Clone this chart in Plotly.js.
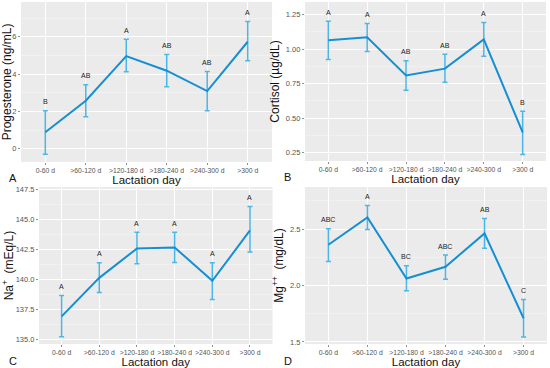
<!DOCTYPE html>
<html><head><meta charset="utf-8">
<script src="https://cdn.plot.ly/plotly-3.0.1.min.js"></script>
<style>html,body{margin:0;padding:0;background:#fff}#chart{width:550px;height:368px}</style>
</head><body><div id="chart"></div>
<script>
const categories = ["0-60 d", ">60-120 d", ">120-180 d", ">180-240 d", ">240-300 d", ">300 d"];

const progMean  = [0.88, 2.57, 4.96, 4.18, 3.09, 5.73];
const progUpper = [2.04, 3.43, 5.86, 5.05, 4.14, 6.82];
const progLower = [-0.30, 1.71, 4.13, 3.32, 2.04, 4.71];
const progLetters = ["B", "AB", "A", "AB", "AB", "A"];

const cortMean  = [1.064, 1.086, 0.810, 0.859, 1.071, 0.397];
const cortUpper = [1.202, 1.187, 0.917, 0.963, 1.194, 0.550];
const cortLower = [0.926, 0.984, 0.702, 0.760, 0.948, 0.238];
const cortLetters = ["A", "A", "AB", "AB", "A", "B"];

const naMean  = [136.94, 140.14, 142.58, 142.67, 139.89, 144.08];
const naUpper = [138.67, 141.39, 143.92, 143.92, 141.39, 146.08];
const naLower = [135.25, 138.92, 141.31, 141.42, 138.33, 142.28];
const naLetters = ["A", "A", "A", "A", "A", "A"];

const mgMean  = [2.361, 2.604, 2.062, 2.166, 2.462, 1.710];
const mgUpper = [2.503, 2.710, 2.175, 2.270, 2.595, 1.876];
const mgLower = [2.213, 2.497, 1.953, 2.056, 2.331, 1.544];
const mgLetters = ["ABC", "A", "BC", "ABC", "AB", "C"];

const LINE = "#168fd2", ERR = "#4cb6e6";
const FONT = "Liberation Sans, Arial, sans-serif";

function trace(mean, up, lo, ax) {
  return {
    x: categories, y: mean, type: "scatter", mode: "lines",
    xaxis: "x" + ax, yaxis: "y" + ax,
    line: {color: LINE, width: 2},
    error_y: {type: "data", symmetric: false,
      array: up.map((u, i) => u - mean[i]),
      arrayminus: lo.map((l, i) => mean[i] - l),
      color: ERR, thickness: 1.5, width: 2.5},
    hoverinfo: "x+y", showlegend: false
  };
}
function letters(up, labs, ax) {
  return labs.map((t, i) => ({
    x: categories[i], y: up[i], xref: "x" + ax, yref: "y" + ax,
    text: t, showarrow: false, yshift: 9, yanchor: "middle",
    font: {family: FONT, size: 7, color: "#222"}
  }));
}
function xax(domain, anchor) {
  return {
    domain: domain, anchor: anchor, type: "category", range: [-0.6, 5.6],
    showgrid: true, gridcolor: "#ffffff", gridwidth: 1, zeroline: false,
    ticks: "outside", ticklen: 2, tickcolor: "#444", tickwidth: 0.6, tickangle: 0,
    tickfont: {family: FONT, size: 6.8, color: "#555"},
    title: {text: "Lactation day", font: {family: FONT, size: 11.5, color: "#111"}, standoff: 0},
    showline: false, automargin: false, fixedrange: true
  };
}
function yax(domain, anchor, range, dtick, tick0, fmt, title) {
  return {
    domain: domain, anchor: anchor, range: range, dtick: dtick, tick0: tick0,
    tickformat: fmt,
    showgrid: true, gridcolor: "#ffffff", gridwidth: 1, zeroline: false,
    minor: {dtick: dtick / 2, tick0: tick0, showgrid: true, gridcolor: "#f5f5f5", gridwidth: 0.6},
    ticks: "outside", ticklen: 2, tickcolor: "#444", tickwidth: 0.6,
    tickfont: {family: FONT, size: 7.5, color: "#555"},
    title: {text: title, font: {family: FONT, size: 12, color: "#111"}, standoff: 3},
    showline: false, automargin: false, fixedrange: true
  };
}

const data = [
  trace(progMean, progUpper, progLower, ""),
  trace(cortMean, cortUpper, cortLower, "2"),
  trace(naMean, naUpper, naLower, "3"),
  trace(mgMean, mgUpper, mgLower, "4")
];

const panelLetter = (t, x, y) => ({text: t, x: x, y: y, xref: "paper", yref: "paper",
  showarrow: false, xanchor: "left", yanchor: "middle", font: {family: FONT, size: 11, color: "#111"}});

const layout = {
  width: 550, height: 368,
  margin: {l: 0, r: 0, t: 0, b: 0},
  paper_bgcolor: "#ffffff", plot_bgcolor: "#ebebeb",
  showlegend: false,
  xaxis: xax([0.0382, 0.4945], "y"),
  yaxis: yax([0.5598, 0.9946], "x", [-0.71, 7.86], 2, 0, "d", "Progesterone (ng/mL)"),
  xaxis2: xax([0.5545, 0.9927], "y2"),
  yaxis2: yax([0.5625, 0.9946], "x2", [0.19, 1.342], 0.25, 0, ".2f", "Cortisol (µg/dL)"),
  xaxis3: xax([0.0709, 0.4956], "y3"),
  yaxis3: yax([0.0652, 0.4918], "x3", [134.64, 147.69], 2.5, 0, ".1f", "Na<sup>+</sup>  (mEq/L)"),
  xaxis4: xax([0.5545, 0.9945], "y4"),
  yaxis4: yax([0.0652, 0.4918], "x4", [1.482, 2.873], 0.5, 0, ".1f", "Mg<sup>++</sup>  (mg/dL)"),
  annotations: [].concat(
    letters(progUpper, progLetters, ""),
    letters(cortUpper, cortLetters, "2"),
    letters(naUpper, naLetters, "3"),
    letters(mgUpper, mgLetters, "4"),
    [panelLetter("A", 7 / 550, 1 - 178 / 368), panelLetter("B", 282 / 550, 1 - 177 / 368),
     panelLetter("C", 7 / 550, 1 - 361 / 368), panelLetter("D", 282 / 550, 1 - 361 / 368)]
  )
};

Plotly.newPlot("chart", data, layout, {displayModeBar: false, staticPlot: true});
</script></body></html>
